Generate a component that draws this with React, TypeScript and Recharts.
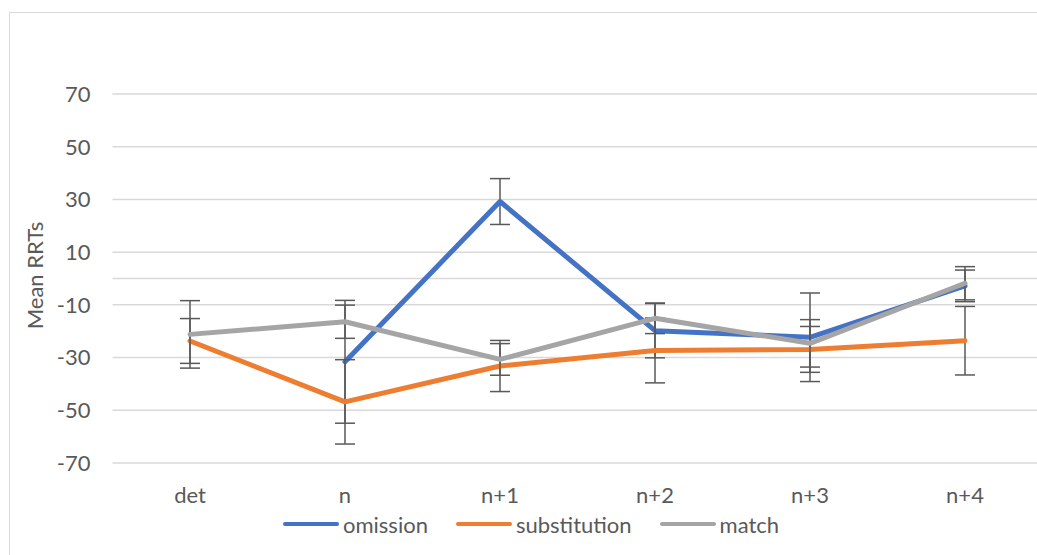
import React from 'react'
import { LineChart, Line, XAxis, YAxis, CartesianGrid, ErrorBar, ReferenceLine } from 'recharts'

const categories = ['det', 'n', 'n+1', 'n+2', 'n+3', 'n+4']
const omission = [null, -31.6, 29.2, -19.8, -22.3, -2.8]
const omissionErr = [null, 23.3, 8.7, 10.3, 16.8, 6]
const substitution = [-23.7, -46.8, -33.2, -27.3, -26.9, -23.6]
const substitutionErr = [8.5, 16, 9.7, 12.3, 8.7, 13]
const match = [-21.2, -16.4, -30.7, -15.1, -24.6, -1.8]
const matchErr = [12.8, 6.3, 6, 5.8, 9, 6.3]
const yTicks = [-70, -50, -30, -10, 10, 30, 50, 70]

const series = [
  { key: 'omission', color: '#4472C4' },
  { key: 'substitution', color: '#ED7D31' },
  { key: 'match', color: '#A5A5A5' },
]

const data = categories.map((c, i) => ({
  name: c,
  omission: omission[i],
  omissionErr: omissionErr[i],
  substitution: substitution[i],
  substitutionErr: substitutionErr[i],
  match: match[i],
  matchErr: matchErr[i],
}))

const font = 'Lato, "Noto Sans", sans-serif'
const textColor = '#595959'

function YLabel({ viewBox }: any) {
  const x = viewBox.x + 34
  const y = viewBox.y + viewBox.height / 2 - 3
  return (
    <text
      x={x}
      y={y}
      transform={`rotate(-90, ${x}, ${y})`}
      textAnchor="middle"
      dominantBaseline="central"
      fill={textColor}
      fontSize={22}
      fontFamily={font}
    >
      Mean RRTs
    </text>
  )
}

export default function App() {
  return (
    <div style={{ position: 'fixed', left: 0, top: 0, width: 1037, height: 555, overflow: 'hidden', background: '#fff' }}>
      {/* chart frame: only top and left edges fall inside the picture */}
      <div
        style={{
          position: 'absolute',
          left: 9,
          top: 12,
          width: 1100,
          height: 600,
          borderTop: '1px solid #D9D9D9',
          borderLeft: '1px solid #D9D9D9',
        }}
      />
      <div style={{ position: 'absolute', left: 0, top: 0 }}>
        <LineChart width={1060} height={555} data={data} margin={{ top: 94, right: 17.5, bottom: 62, left: 0 }}>
          <CartesianGrid vertical={false} stroke="#D9D9D9" strokeWidth={1.5} />
          <XAxis
            dataKey="name"
            axisLine={false}
            tickLine={false}
            tickSize={0}
            tickMargin={24}
            height={30}
            padding={{ left: 77.5, right: 77.5 }}
            tick={{ fill: textColor, fontSize: 22, fontFamily: font }}
          />
          <YAxis
            domain={[-70, 70]}
            ticks={yTicks}
            axisLine={false}
            tickLine={false}
            tickSize={0}
            tickMargin={22}
            width={112.5}
            tick={{ fill: textColor, fontSize: 22, fontFamily: font }}
            label={<YLabel />}
          />
          <ReferenceLine y={0} stroke="#D9D9D9" strokeWidth={1.5} />
          {series.map((s) => (
            <Line
              key={s.key}
              type="linear"
              dataKey={s.key}
              stroke={s.color}
              strokeWidth={5}
              strokeLinecap="round"
              strokeLinejoin="round"
              dot={false}
              activeDot={false}
              isAnimationActive={false}
            >
              <ErrorBar dataKey={`${s.key}Err`} width={10} stroke="#595959" strokeWidth={1.5} direction="y" />
            </Line>
          ))}
        </LineChart>
      </div>
      <div
        style={{
          position: 'absolute',
          left: 283,
          top: 510,
          height: 28,
          display: 'flex',
          alignItems: 'center',
          fontFamily: font,
          fontSize: 22,
          color: textColor,
        }}
      >
        {series.map((s) => (
          <div key={s.key} style={{ display: 'flex', alignItems: 'center', marginRight: 28 }}>
            <div style={{ width: 56, height: 4.5, borderRadius: 3, background: s.color, marginRight: 4 }} />
            <span>{s.key}</span>
          </div>
        ))}
      </div>
    </div>
  )
}
